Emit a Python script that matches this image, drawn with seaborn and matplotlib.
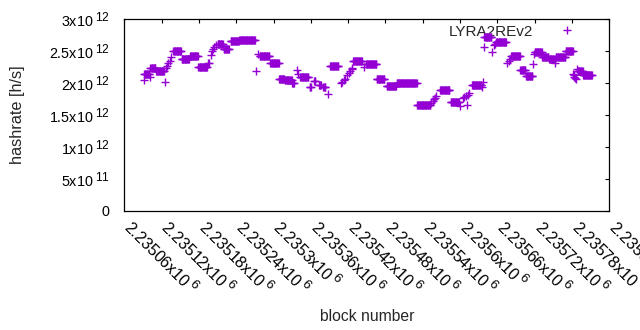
import numpy as np
import pandas as pd
import matplotlib
matplotlib.use("Agg")
import matplotlib.pyplot as plt
import matplotlib.transforms as mtransforms
import matplotlib._mathtext as _mt
import seaborn as sns
from matplotlib.ticker import FuncFormatter

# gnuplot-like superscripts: a bit larger than matplotlib's default
_mt.SHRINK_FACTOR = 0.83

# ---- data ----
BASE_BLOCK = 2235060
# runs of consecutive blocks with the same hashrate (offsets from BASE_BLOCK)
run_start = [31, 32, 41, 42, 51, 65, 67, 69, 71, 73, 75, 79, 92, 106, 119,
             135, 137, 139, 141, 143, 145, 148, 150, 160, 171, 185, 212, 215,
             218, 235, 249, 258, 270, 277, 280, 283, 298, 305, 313, 320, 327,
             331, 348, 350, 353, 355, 358, 361, 363, 366, 367, 368, 385, 389,
             406, 422, 438, 471, 494, 496, 498, 500, 502, 508, 525, 540, 544,
             547, 549, 551, 553, 555, 559, 576, 577, 578, 579, 591, 594, 596,
             598, 616, 618, 620, 622, 637, 646, 657, 659, 660, 672, 683, 693,
             694, 710, 722, 723, 724, 725, 726, 728, 729, 738]
run_end = [31, 40, 41, 50, 64, 65, 67, 69, 71, 73, 75, 91, 104, 118, 133,
           135, 137, 139, 141, 143, 145, 148, 158, 168, 184, 210, 212, 215,
           233, 248, 257, 269, 273, 277, 280, 296, 300, 307, 316, 323, 327,
           344, 348, 350, 353, 355, 358, 361, 363, 366, 367, 382, 385, 405,
           418, 437, 470, 492, 494, 496, 498, 500, 502, 523, 538, 540, 544,
           547, 549, 551, 553, 555, 574, 576, 577, 578, 590, 591, 594, 596,
           614, 616, 618, 620, 636, 645, 656, 657, 659, 671, 682, 692, 693,
           709, 721, 722, 723, 724, 725, 726, 728, 737, 752]
hashrate_e12 = [2.04, 2.14, 2.09, 2.24, 2.19, 2.01, 2.24, 2.27, 2.32, 2.35, 2.40,
                2.50, 2.37, 2.42, 2.245, 2.31, 2.32, 2.44, 2.50, 2.53, 2.57, 2.59,
                2.61, 2.53, 2.66, 2.67, 2.19, 2.45, 2.42, 2.31, 2.07, 2.04, 2.00,
                2.20, 2.14, 2.09, 1.94, 2.03, 1.97, 1.93, 1.83, 2.27, 2.00, 2.01,
                2.04, 2.07, 2.12, 2.16, 2.18, 2.22, 2.24, 2.34, 2.25, 2.29, 2.06,
                1.95, 2.00, 1.65, 1.69, 1.72, 1.75, 1.77, 1.80, 1.89, 1.70, 1.645,
                1.76, 1.78, 1.80, 1.66, 1.82, 1.84, 1.97, 1.94, 2.02, 2.56, 2.72,
                2.48, 2.59, 2.61, 2.645, 2.32, 2.35, 2.37, 2.42, 2.20, 2.11, 2.29,
                2.45, 2.49, 2.41, 2.37, 2.32, 2.40, 2.50, 2.14, 2.12, 2.10, 2.08,
                2.06, 2.22, 2.18, 2.125]
series_name = "LYRA2REv2"
x_title = "block number"
y_title = "hashrate [h/s]"
x_min, x_max, x_step = 2235060, 2235840, 60
y_tick_values = [0, 0.5e12, 1.0e12, 1.5e12, 2.0e12, 2.5e12, 3.0e12]

blocks, rates = [], []
for s, e, v in zip(run_start, run_end, hashrate_e12):
    for b in range(s, e + 1):
        blocks.append(BASE_BLOCK + b)
        rates.append(v * 1e12)
df = pd.DataFrame({"block": blocks, "hashrate": rates})

# ---- style ----
sns.set_theme(style="white")
plt.rcParams["font.family"] = ["Liberation Sans", "DejaVu Sans"]
plt.rcParams["mathtext.fontset"] = "custom"
plt.rcParams["mathtext.rm"] = "Liberation Sans"
plt.rcParams["mathtext.it"] = "Liberation Sans:italic"
plt.rcParams["mathtext.bf"] = "Liberation Sans:bold"

fig = plt.figure(figsize=(6.4, 3.3), dpi=100)
ax = fig.add_axes([124.3 / 640, 119 / 330, 485 / 640, 192 / 330])

sns.scatterplot(data=df, x="block", y="hashrate", marker="+", s=26,
                color="#9400d3", linewidth=1.0, label=series_name,
                ax=ax, zorder=3)

ax.set_xlim(x_min, x_max)
ax.set_ylim(0, 3e12)
ax.set_xticks(np.arange(x_min, x_max + 1, x_step))
ax.set_yticks(y_tick_values)


def sci(v, pos=None):
    if v == 0:
        return "0"
    e = int(np.floor(np.log10(abs(v)) + 1e-9))
    m = v / 10 ** e
    return r"$\mathregular{%sx10^{\;%d}}$" % ("%g" % round(m, 6), e)


ax.xaxis.set_major_formatter(FuncFormatter(sci))
ax.yaxis.set_major_formatter(FuncFormatter(sci))

ax.tick_params(axis="both", direction="in", length=3, width=0.8,
               top=True, right=True, colors="black")
ax.tick_params(axis="y", pad=10.5, labelsize=10.4)
ax.tick_params(axis="x", pad=4, labelsize=11.5)
shift = mtransforms.ScaledTranslation(10.5 / 100, 0, fig.dpi_scale_trans)
for lab in ax.get_xticklabels():
    lab.set_rotation(-45)
    lab.set_ha("left")
    lab.set_va("top")
    lab.set_rotation_mode("anchor")
    lab.set_transform(lab.get_transform() + shift)

for sp in ax.spines.values():
    sp.set_color("black")
    sp.set_linewidth(0.9)

ax.set_xlabel(x_title, fontsize=11.3)
ax.set_ylabel(y_title, fontsize=11.7)
ax.xaxis.set_label_coords(0.5, -0.51)
ax.yaxis.set_label_coords(-0.205, 0.5)

leg = ax.legend(loc="upper right", bbox_to_anchor=(1.0, 1.05),
                frameon=False, markerfirst=False,
                handlelength=3.53, handletextpad=0.46, borderaxespad=0.6,
                borderpad=0.4, fontsize=11, scatteryoffsets=[0.5])
leg.set_zorder(1)

fig.savefig("out.png", dpi=100)
